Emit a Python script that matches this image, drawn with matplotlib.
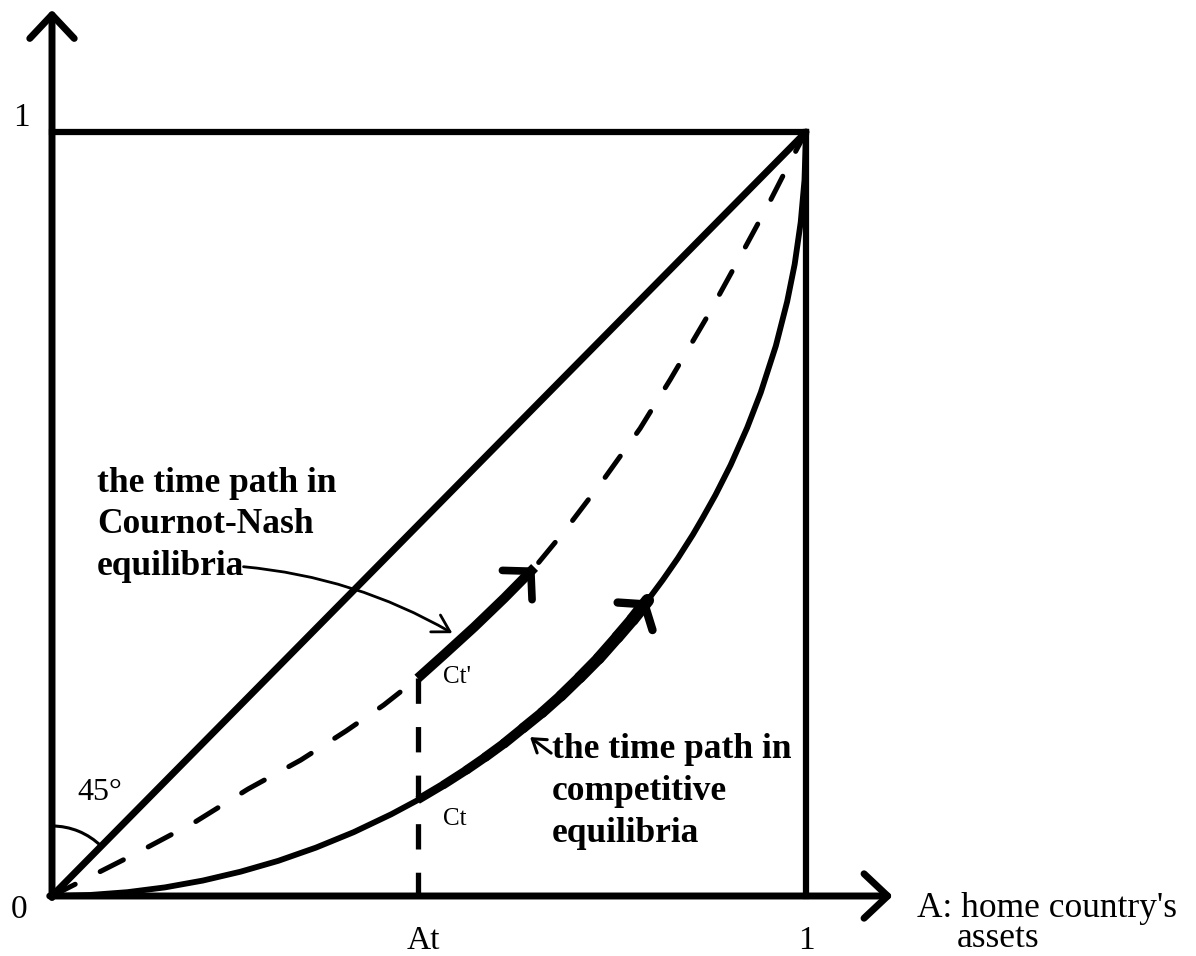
import matplotlib
matplotlib.use('Agg')
import matplotlib.pyplot as plt
from matplotlib.patches import Arc

# ---------------- data ----------------
# competitive-equilibrium time path (solid curve)
competitive_x = [0.0, 0.05, 0.1, 0.15, 0.2, 0.25, 0.3, 0.35, 0.4, 0.45, 0.485, 0.52, 0.55,
                 0.575, 0.6, 0.625, 0.65, 0.675, 0.7, 0.725, 0.75, 0.77, 0.79, 0.81, 0.83,
                 0.85, 0.863, 0.88, 0.9, 0.922, 0.94, 0.96, 0.975, 0.985, 0.993, 0.998, 1.0]
competitive_y = [0.0, 0.0013, 0.005, 0.0113, 0.0202, 0.0318, 0.046, 0.0633, 0.0835, 0.107,
                 0.1255, 0.146, 0.165, 0.182, 0.2, 0.22, 0.24, 0.262, 0.286, 0.311, 0.339,
                 0.362, 0.387, 0.4136, 0.442, 0.473, 0.495, 0.525, 0.564, 0.613, 0.659,
                 0.72, 0.778, 0.827, 0.882, 0.937, 1.0]
# Cournot-Nash time path (dashed curve)
cournot_x = [0.0, 0.04, 0.11, 0.19, 0.26, 0.33, 0.39, 0.44, 0.485, 0.52, 0.56, 0.6, 0.64,
             0.68, 0.73, 0.78, 0.82, 0.87, 0.91, 0.95, 0.98, 1.0]
cournot_y = [0.0, 0.02, 0.055, 0.097, 0.14, 0.178, 0.216, 0.25, 0.285, 0.316, 0.352, 0.39,
             0.43, 0.478, 0.543, 0.612, 0.676, 0.76, 0.832, 0.905, 0.963, 1.0]

a_t = 0.485                 # position of At
competitive_arrow_end = 0.79
cournot_arrow_end = 0.64
diag_x = [0.0, 1.0]
diag_y = [0.0, 1.0]

x_tick_labels = ['0', 'At', '1']
x_tick_values = [0.0, a_t, 1.0]
y_tick_labels = ['1']
y_tick_values = [1.0]

text_cournot = ['the time path in', 'Cournot-Nash', 'equilibria']
text_competitive = ['the time path in', 'competitive', 'equilibria']
x_axis_label = ['A: home country\'s', 'assets']

# ---------------- figure ----------------
PX_X = 754.0
PX_Y = 764.0
fig = plt.figure(figsize=(11.96, 9.56), dpi=100)
ax = fig.add_axes([0, 0, 1, 1])
ax.set_xlim(-52 / PX_X, (1196 - 52) / PX_X)
ax.set_ylim((896 - 956) / PX_Y, 896 / PX_Y)
ax.axis('off')

serif = ['Liberation Serif', 'DejaVu Serif']
K = 'black'

# axes with open arrow heads
axis_arrow = dict(arrowstyle='->,head_length=17,head_width=16', lw=5, color=K,
                  mutation_scale=1, shrinkA=0, shrinkB=0, capstyle='round', joinstyle='round')
ax.annotate('', xy=(0, 1.16), xytext=(0, -0.002), arrowprops=axis_arrow)
ax.annotate('', xy=(1.115, 0), xytext=(-0.003, 0), arrowprops=axis_arrow)

# box
ax.plot([0, 1], [1, 1], color=K, lw=4.5, solid_capstyle='projecting')
ax.plot([1, 1], [0, 1], color=K, lw=4.5, solid_capstyle='projecting')

# 45-degree line
ax.plot(diag_x, diag_y, color=K, lw=5, solid_capstyle='round')

# competitive curve (solid)
ax.plot(competitive_x, competitive_y, color=K, lw=4.2, solid_capstyle='round',
        solid_joinstyle='round')

# Cournot-Nash curve (dashed)
ax.plot(cournot_x, cournot_y, color=K, lw=3.6, linestyle=(0, (5.2, 5.6)),
        dash_capstyle='round')

# vertical dashed line at At
ax.plot([a_t, a_t], [cournot_y[cournot_x.index(a_t)], 0], color=K, lw=3.8,
        linestyle=(0, (4.8, 4.4)))

# thick arrow along competitive path (thickening towards the head)
cx = [x for x in competitive_x if a_t <= x <= competitive_arrow_end]
cy = [y for x, y in zip(competitive_x, competitive_y) if a_t <= x <= competitive_arrow_end]
nseg = len(cx) - 1
for i in range(nseg):
    w = 6.0 + 3.2 * i / max(nseg - 1, 1)
    ax.plot(cx[i:i + 2], cy[i:i + 2], color=K, lw=w,
            solid_capstyle='butt' if i == 0 else 'round')
ax.annotate('', xy=(cx[-1], cy[-1]), xytext=(cx[-2], cy[-2]),
            arrowprops=dict(arrowstyle='->,head_length=11,head_width=16', lw=6, color=K,
                            mutation_scale=1, shrinkA=0, shrinkB=0,
                            capstyle='round', joinstyle='round'))

# thick arrow along Cournot path
nx = [x for x in cournot_x if a_t <= x <= cournot_arrow_end]
ny = [y for x, y in zip(cournot_x, cournot_y) if a_t <= x <= cournot_arrow_end]
ax.plot(nx, ny, color=K, lw=7, solid_capstyle='butt', solid_joinstyle='round')
ax.annotate('', xy=(nx[-1], ny[-1]), xytext=(nx[-2], ny[-2]),
            arrowprops=dict(arrowstyle='->,head_length=14,head_width=15', lw=5.5, color=K,
                            mutation_scale=1, shrinkA=0, shrinkB=0,
                            capstyle='round', joinstyle='round'))

# 45 degree angle arc
r = 70
ax.add_patch(Arc((0, 0), 2 * r / PX_X, 2 * r / PX_Y, theta1=45, theta2=90,
                 color=K, lw=2.2))
ax.text(0.063, 0.135, '45°', fontsize=23, family=serif, ha='center', va='center')

# tick labels
ax.text(-0.044, -0.018, x_tick_labels[0], fontsize=24, family=serif, ha='center', va='center')
ax.text(x_tick_values[1] + 0.008, -0.058, x_tick_labels[1], fontsize=24, family=serif,
        ha='center', va='center')
ax.text(x_tick_values[2], -0.059, x_tick_labels[2], fontsize=24, family=serif,
        ha='center', va='center')
ax.text(-0.041, y_tick_values[0] + 0.018, y_tick_labels[0], fontsize=24, family=serif,
        ha='center', va='center')

# point labels
ax.text(0.518, 0.279, "Ct'", fontsize=18, family=serif, ha='left', va='baseline')
ax.text(0.518, 0.093, 'Ct', fontsize=18, family=serif, ha='left', va='baseline')

# x-axis label
ax.text(1.147, -0.027, x_axis_label[0], fontsize=25.5, family=serif, ha='left', va='baseline')
ax.text(1.200, -0.067, x_axis_label[1], fontsize=25.5, family=serif, ha='left', va='baseline')

# Cournot-Nash annotation
for line, yb in zip(text_cournot, [0.529, 0.475, 0.42]):
    ax.text(0.06, yb, line, fontsize=25.5, family=serif, fontweight='bold',
            ha='left', va='baseline')
ax.annotate('', xy=(0.531, 0.344), xytext=(0.254, 0.431),
            arrowprops=dict(arrowstyle='->,head_length=12,head_width=7', lw=2, color=K,
                            mutation_scale=1, shrinkA=0, shrinkB=0,
                            connectionstyle='arc3,rad=-0.11'))

# competitive annotation
for line, yb in zip(text_competitive, [0.181, 0.126, 0.071]):
    ax.text(0.663, yb, line, fontsize=25.5, family=serif, fontweight='bold',
            ha='left', va='baseline')
ax.annotate('', xy=(0.634, 0.208), xytext=(0.662, 0.187),
            arrowprops=dict(arrowstyle='->,head_length=9,head_width=6', lw=2.2, color=K,
                            mutation_scale=1, shrinkA=0, shrinkB=0))

fig.savefig('out.png', dpi=100, facecolor='white')
